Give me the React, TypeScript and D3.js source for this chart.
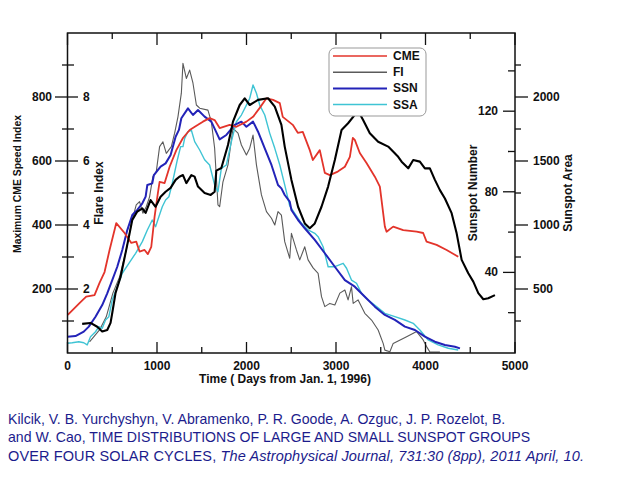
import React from "react";
import * as d3 from "d3";

type P = [number, number];

// CME speed index (left axis, 0–1000)
const cmeSeries: P[] = [[3,119],[134,156],[209,176],[302,181],[358,219],[414,253],[470,322],[545,406],[638,375],[713,344],[768,348],[805,317],[861,322],[898,309],[936,332],[973,426],[1010,500],[1029,535],[1085,531],[1141,582],[1216,634],[1290,672],[1365,697],[1458,713],[1513,723],[1588,734],[1644,728],[1700,703],[1812,713],[1887,707],[1999,723],[2073,738],[2148,766],[2223,796],[2297,791],[2372,781],[2405,738],[2517,713],[2573,688],[2629,691],[2707,634],[2741,603],[2819,634],[2875,563],[2931,556],[3020,567],[3099,582],[3155,613],[3188,672],[3210,666],[3266,625],[3341,594],[3434,551],[3490,520],[3546,395],[3565,379],[3639,395],[3751,384],[3901,379],[3974,375],[4012,348],[4124,338],[4236,322],[4366,301]];

// Flare index (0–10)
const fiSeries: P[] = [[246,0.35],[358,0.72],[433,1.13],[507,1.87],[582,2.38],[657,3.22],[713,4.05],[768,4.63],[805,4.73],[842,4.37],[880,4.57],[917,4.88],[954,5.51],[992,5.67],[1029,6.45],[1066,6.6],[1104,6.24],[1160,6.45],[1197,6.87],[1234,7.38],[1272,8.12],[1290,9.05],[1328,8.58],[1365,8.84],[1402,8.43],[1440,7.75],[1477,7.65],[1569,7.59],[1607,7.23],[1644,6.4],[1681,4.63],[1700,4.57],[1737,5.35],[1793,5.88],[1849,7.02],[1905,6.87],[1943,6.5],[1999,6.19],[2036,6.4],[2073,6.81],[2111,5.88],[2167,4.94],[2223,4.42],[2279,4.21],[2316,4.0],[2352,4.42],[2390,4.31],[2427,3.48],[2483,2.96],[2502,3.74],[2558,3.22],[2595,2.91],[2651,3.32],[2688,2.91],[2744,2.66],[2800,2.49],[2838,1.76],[2875,1.45],[2931,1.55],[2987,1.5],[3043,1.87],[3099,1.97],[3135,1.66],[3173,2.07],[3192,1.55],[3247,1.66],[3322,1.24],[3397,1.03],[3471,0.72],[3527,0.3],[3546,0.09],[3602,0.04],[3639,0.3],[3789,0.51],[3901,0.67],[3974,0.41],[4012,0.2],[4049,0.03],[4161,0.03]];

// Sunspot number
const ssnSeries: P[] = [[0,8.1],[89,8.4],[182,10.6],[238,13.1],[313,18.0],[388,23.8],[444,29.6],[500,36.2],[556,42.8],[612,51.1],[668,61.0],[724,68.5],[780,71.0],[836,74.3],[873,77.6],[892,83.4],[947,84.2],[965,88.3],[1040,92.5],[1096,94.1],[1152,98.3],[1208,107.3],[1245,110.7],[1272,116.5],[1346,121.4],[1402,118.1],[1458,120.6],[1532,117.3],[1607,114.8],[1700,106],[1775,108.2],[1868,113.2],[1943,114.8],[1999,112.3],[2073,114.8],[2129,109.8],[2204,101.6],[2279,93.3],[2352,83.4],[2390,81.7],[2427,78.4],[2483,75.1],[2502,71.0],[2576,66.0],[2651,61.9],[2763,56.1],[2875,49.5],[2987,42.8],[3099,36.2],[3210,32.9],[3322,27.9],[3434,23.0],[3546,18.9],[3658,16.4],[3770,13.1],[3882,11.4],[3993,8.1],[4105,5.6],[4217,4.0],[4329,3.1],[4385,2.3]];

// Sunspot area
const ssaSeries: P[] = [[0,76],[53,80],[126,88],[182,80],[220,63],[257,127],[313,166],[350,205],[388,193],[425,258],[462,284],[500,414],[556,518],[612,623],[686,701],[761,779],[836,870],[892,961],[947,1039],[984,987],[1021,1065],[1059,1143],[1096,1195],[1133,1221],[1171,1326],[1227,1508],[1264,1612],[1290,1612],[1309,1677],[1346,1730],[1384,1740],[1421,1651],[1477,1586],[1532,1510],[1588,1469],[1644,1313],[1681,1260],[1719,1443],[1775,1469],[1831,1651],[1887,1807],[1943,1859],[1999,1937],[2036,1990],[2073,2094],[2111,2029],[2148,1937],[2204,1859],[2260,1716],[2316,1599],[2372,1469],[2427,1313],[2483,1150],[2539,1091],[2614,1013],[2688,961],[2763,935],[2800,909],[2856,830],[2912,674],[2987,674],[3080,701],[3118,662],[3173,570],[3229,545],[3285,466],[3359,414],[3453,362],[3546,310],[3658,284],[3770,258],[3863,232],[3937,180],[4030,102],[4142,63],[4254,37],[4366,23]];

// Unlabelled thick black curve (in left-axis units)
const blackSeries: P[] = [[164,91],[257,94],[332,82],[388,67],[444,72],[481,94],[500,125],[537,188],[593,238],[649,313],[686,363],[724,416],[780,442],[836,452],[873,438],[928,478],[984,457],[1040,488],[1096,504],[1152,516],[1208,541],[1250,551],[1290,556],[1328,531],[1384,556],[1420,551],[1458,520],[1532,500],[1600,494],[1644,504],[1663,570],[1719,578],[1793,650],[1849,723],[1924,775],[1980,796],[2036,775],[2129,791],[2241,796],[2316,770],[2390,713],[2427,645],[2502,541],[2576,457],[2651,405],[2707,390],[2763,405],[2838,457],[2912,520],[2987,603],[3062,697],[3135,718],[3210,744],[3247,757],[3303,728],[3378,687],[3471,660],[3583,645],[3695,613],[3733,598],[3807,577],[3863,603],[3937,598],[3993,577],[4049,577],[4105,541],[4161,509],[4217,483],[4292,437],[4348,374],[4404,291],[4478,249],[4534,223],[4590,187],[4646,168],[4701,171],[4776,181]];

const xMajor = [0, 1000, 2000, 3000, 4000, 5000];
const xMinor = [500, 1500, 2500, 3500, 4500];
const cmeMajor = [200, 400, 600, 800];
const cmeMinor = [100, 300, 500, 700, 900];
const fiLabels = [2, 4, 6, 8];
const ssnMajor = [40, 80, 120];
const ssnMinor = [20, 60, 100, 140];
const ssaMajor = [500, 1000, 1500, 2000];
const ssaMinor = [250, 750, 1250, 1750, 2250];

const legendNames = ["CME", "FI", "SSN", "SSA"];
const legendColors = ["#e3342b", "#5a5a5a", "#2323b8", "#3fc4d4"];

const captionLines = [
  "Kilcik, V. B. Yurchyshyn, V. Abramenko, P. R. Goode, A. Ozguc, J. P. Rozelot, B.",
  "and W. Cao, TIME DISTRIBUTIONS OF LARGE AND SMALL SUNSPOT GROUPS",
];
const captionLine3a = "OVER FOUR SOLAR CYCLES, ";
const captionLine3b = "The Astrophysical Journal, 731:30 (8pp), 2011 April, 10.";

const L = 67.5, R = 515, T = 33, B = 353;

export default function App() {
  const x = d3.scaleLinear().domain([0, 5000]).range([L, R]);
  const yCme = d3.scaleLinear().domain([0, 1000]).range([B, T]);
  const yFi = d3.scaleLinear().domain([0, 10]).range([B, T]);
  const ySsn = d3.scaleLinear().domain([0, 158.8]).range([B, T]);
  const ySsa = d3.scaleLinear().domain([0, 2500]).range([B, T]);

  const mk = (ys: d3.ScaleLinear<number, number>) =>
    d3.line<P>().x((d) => x(d[0])).y((d) => ys(d[1]));

  const font = "'Liberation Sans', Arial, Helvetica, sans-serif";
  const tickStyle = { fontFamily: font, fontWeight: 700, fontSize: 12, fill: "#111" } as const;
  const ax = "#111";

  return (
    <svg width={640} height={480} style={{ position: "absolute", left: 0, top: 0, background: "#fff" }}>
      <rect x={0} y={0} width={640} height={480} fill="#fff" />
      {/* series */}
      <g fill="none" strokeLinejoin="round">
        <path d={mk(yFi)(fiSeries) || ""} stroke={legendColors[1]} strokeWidth={1.1} />
        <path d={mk(ySsa)(ssaSeries) || ""} stroke={legendColors[3]} strokeWidth={1.4} />
        <path d={mk(ySsn)(ssnSeries) || ""} stroke={legendColors[2]} strokeWidth={2} />
        <path d={mk(yCme)(cmeSeries) || ""} stroke={legendColors[0]} strokeWidth={1.8} />
        <path d={mk(yCme)(blackSeries) || ""} stroke="#000" strokeWidth={2.1} />
      </g>

      {/* frame */}
      <rect x={L} y={T} width={R - L} height={B - T} fill="none" stroke={ax} strokeWidth={1.5} />

      {/* bottom & top ticks */}
      {xMajor.map((v) => (
        <g key={"xm" + v}>
          <line x1={x(v)} x2={x(v)} y1={B} y2={B - 11} stroke={ax} strokeWidth={1.3} />
          <line x1={x(v)} x2={x(v)} y1={T} y2={T + 12} stroke={ax} strokeWidth={1.3} />
          <text x={x(v)} y={366} textAnchor="middle" dominantBaseline="central" style={tickStyle}>{v}</text>
        </g>
      ))}
      {xMinor.map((v) => (
        <g key={"xn" + v}>
          <line x1={x(v)} x2={x(v)} y1={B} y2={B - 6} stroke={ax} strokeWidth={1.3} />
          <line x1={x(v)} x2={x(v)} y1={T} y2={T + 6} stroke={ax} strokeWidth={1.3} />
        </g>
      ))}
      <text x={285} y={379} textAnchor="middle" dominantBaseline="central" style={tickStyle}>
        Time ( Days from Jan. 1, 1996)
      </text>

      {/* left axis */}
      {cmeMajor.map((v) => (
        <g key={"cm" + v}>
          <line x1={55} x2={78} y1={yCme(v)} y2={yCme(v)} stroke={ax} strokeWidth={1.3} />
          <text x={52} y={yCme(v)} textAnchor="end" dominantBaseline="central" style={tickStyle}>{v}</text>
        </g>
      ))}
      {cmeMinor.map((v) => (
        <line key={"cn" + v} x1={62} x2={74} y1={yCme(v)} y2={yCme(v)} stroke={ax} strokeWidth={1.3} />
      ))}
      {fiLabels.map((v) => (
        <text key={"fi" + v} x={83} y={yFi(v)} dominantBaseline="central" style={tickStyle}>{v}</text>
      ))}
      <text transform="translate(17,184) rotate(-90)" textAnchor="middle" dominantBaseline="central" style={{ ...tickStyle, fontSize: 10.4 }}>
        Maximum CME Speed Index
      </text>
      <text transform="translate(99,193) rotate(-90)" textAnchor="middle" dominantBaseline="central" style={tickStyle}>
        Flare Index
      </text>

      {/* right axes */}
      {ssnMajor.map((v) => (
        <g key={"sm" + v}>
          <line x1={503} x2={R} y1={ySsn(v)} y2={ySsn(v)} stroke={ax} strokeWidth={1.3} />
          <text x={498} y={ySsn(v)} textAnchor="end" dominantBaseline="central" style={tickStyle}>{v}</text>
        </g>
      ))}
      {ssnMinor.map((v) => (
        <line key={"sn" + v} x1={508} x2={R} y1={ySsn(v)} y2={ySsn(v)} stroke={ax} strokeWidth={1.3} />
      ))}
      {ssaMajor.map((v) => (
        <g key={"am" + v}>
          <line x1={R} x2={528} y1={ySsa(v)} y2={ySsa(v)} stroke={ax} strokeWidth={1.3} />
          <text x={533} y={ySsa(v)} dominantBaseline="central" style={tickStyle}>{v}</text>
        </g>
      ))}
      {ssaMinor.map((v) => (
        <line key={"an" + v} x1={R} x2={521} y1={ySsa(v)} y2={ySsa(v)} stroke={ax} strokeWidth={1.3} />
      ))}
      <text transform="translate(473,193) rotate(-90)" textAnchor="middle" dominantBaseline="central" style={tickStyle}>
        Sunspot Number
      </text>
      <text transform="translate(568,193) rotate(-90)" textAnchor="middle" dominantBaseline="central" style={tickStyle}>
        Sunspot Area
      </text>

      {/* legend */}
      <rect x={329} y={48} width={97} height={68} rx={6} fill="#fff" stroke="#999" strokeWidth={1} />
      {legendNames.map((n, i) => {
        const yy = 56 + i * 16.2;
        return (
          <g key={n}>
            <line x1={333} x2={387} y1={yy} y2={yy} stroke={legendColors[i]} strokeWidth={i === 2 ? 2 : 1.5} />
            <text x={393} y={yy} dominantBaseline="central" style={tickStyle}>{n}</text>
          </g>
        );
      })}

      {/* caption */}
      <g style={{ fontFamily: font, fill: "#1c1c8c" }}>
        {captionLines.map((s, i) => (
          <text key={i} x={8} y={423.5 + i * 18.5} fontSize={14.1}>{s}</text>
        ))}
        <text x={8} y={460.5} fontSize={14.5} textLength={576} lengthAdjust="spacing">
          {captionLine3a}
          <tspan fontStyle="italic">{captionLine3b}</tspan>
        </text>
      </g>
    </svg>
  );
}
